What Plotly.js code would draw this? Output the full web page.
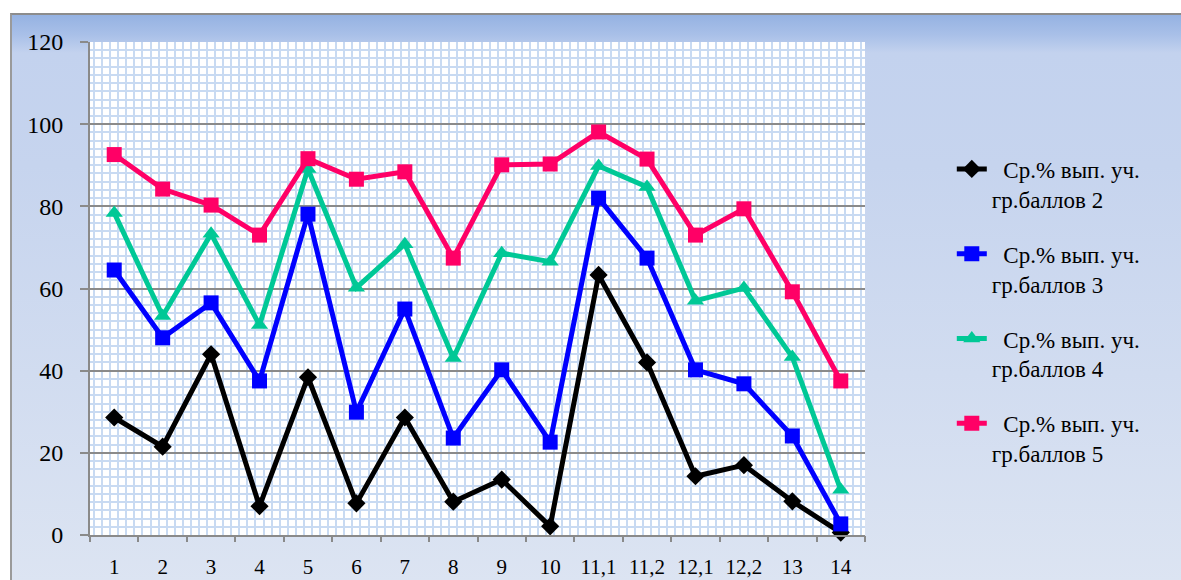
<!DOCTYPE html>
<html><head><meta charset="utf-8">
<script src="https://cdn.plot.ly/plotly-3.0.1.min.js"></script>
<style>
html,body{margin:0;padding:0;background:#fff;width:1181px;height:580px;overflow:hidden}
#frame{position:absolute;left:10px;top:13px;width:1171px;height:567px;box-sizing:border-box;border-top:2px solid #8c8c8c;border-left:2px solid #9a9a9a;
background:linear-gradient(to bottom,#95b2e2 0px,#a9c0e8 20px,#c3d2ee 38px,#c6d4ee 150px,#dce4f2 567px)}
#chart{position:absolute;left:0;top:0;width:1181px;height:580px}
</style></head><body>
<div id="frame"></div><div id="chart"></div>
<script>
const categories = ['1','2','3','4','5','6','7','8','9','10','11,1','11,2','12,1','12,2','13','14'];
const seriesNames = [
  '\u00a0\u00a0Ср.% вып. уч.<br>гр.баллов 2',
  '\u00a0\u00a0Ср.% вып. уч.<br>гр.баллов 3',
  '\u00a0\u00a0Ср.% вып. уч.<br>гр.баллов 4',
  '\u00a0\u00a0Ср.% вып. уч.<br>гр.баллов 5'
];
const grade2 = [28.6, 21.5, 44.0, 7.0, 38.4, 7.7, 28.6, 8.1, 13.5, 2.1, 63.3, 42.0, 14.3, 17.0, 8.2, 0.6];
const grade3 = [64.5, 48.0, 56.5, 37.5, 78.1, 29.9, 55.0, 23.6, 40.2, 22.6, 82.0, 67.4, 40.2, 36.8, 24.1, 2.7];
const grade4 = [78.4, 53.3, 73.3, 51.1, 89.1, 60.2, 70.8, 43.1, 68.6, 66.5, 89.8, 84.7, 57.0, 60.1, 43.3, 11.0];
const grade5 = [92.6, 84.2, 80.3, 73.0, 91.6, 86.6, 88.4, 67.4, 90.1, 90.3, 98.1, 91.5, 73.0, 79.4, 59.2, 37.5];
const yTicks = [0, 20, 40, 60, 80, 100, 120];

const xPos = categories.map((c, i) => i + 1);
const bounds = [0.5].concat(categories.map((c, i) => i + 1.5));
const FONT = 'Liberation Serif';

const styles = [
  {color: '#000000', symbol: 'diamond', size: 14},
  {color: '#0000ff', symbol: 'square', size: 15},
  {color: '#00c896', symbol: 'triangle-up', size: 15},
  {color: '#ff0066', symbol: 'square', size: 15}
];
const series = [grade2, grade3, grade4, grade5];
const traces = series.map((vals, k) => ({
  type: 'scatter', mode: 'lines+markers',
  x: xPos, y: vals, name: seriesNames[k], legendgroup: 'g' + k,
  line: {color: styles[k].color, width: 5},
  marker: {color: styles[k].color, symbol: styles[k].symbol, size: styles[k].size, line: {width: 0}},
  cliponaxis: false
}));
traces.push({type: 'scatter', x: [], y: [], xaxis: 'x2', showlegend: false, hoverinfo: 'skip'});

const layout = {
  width: 1181, height: 580,
  margin: {l: 90, r: 316, t: 42, b: 45, pad: 0},
  paper_bgcolor: 'rgba(0,0,0,0)', plot_bgcolor: '#ffffff',
  showlegend: true,
  font: {family: FONT, color: '#000'},
  xaxis: {
    range: [0.5, categories.length + 0.5], tickmode: 'array', tickvals: xPos, ticktext: categories,
    ticks: '', showgrid: false, zeroline: false, showline: true, linecolor: '#8a8a8a', linewidth: 2,
    tickfont: {family: FONT, size: 21, color: '#000'}, ticklabelstandoff: 12,
    minor: {tick0: 0.5 + 1/12, dtick: 1/6, showgrid: true, gridcolor: '#c8daf2', gridwidth: 2, ticks: ''},
    fixedrange: true
  },
  xaxis2: {
    overlaying: 'x', anchor: 'y', side: 'bottom',
    range: [0.5, categories.length + 0.5], tickmode: 'array', tickvals: bounds,
    ticks: 'outside', ticklen: 6, tickwidth: 2, tickcolor: '#8a8a8a',
    showticklabels: false, showgrid: false, zeroline: false, showline: false
  },
  yaxis: {
    range: [0, 120], tickmode: 'array', tickvals: yTicks,
    ticks: 'outside', ticklen: 8, tickwidth: 2, tickcolor: '#8a8a8a',
    showgrid: true, gridcolor: '#8a8a8a', gridwidth: 2,
    zeroline: false, showline: true, linecolor: '#8a8a8a', linewidth: 2,
    tickfont: {family: FONT, size: 24, color: '#000'}, ticklabelstandoff: 12,
    minor: {tick0: 0, dtick: 2, showgrid: true, gridcolor: '#c8daf2', gridwidth: 2, ticks: ''},
    fixedrange: true
  },
  legend: {
    x: 1.112, xanchor: 'left', y: 0.786, yanchor: 'top',
    bgcolor: 'rgba(0,0,0,0)', borderwidth: 0,
    font: {family: FONT, size: 23, color: '#000'},
    valign: 'top', tracegroupgap: 22, traceorder: 'grouped'
  }
};
Plotly.newPlot('chart', traces, layout, {staticPlot: true, displayModeBar: false});
</script>
</body></html>
